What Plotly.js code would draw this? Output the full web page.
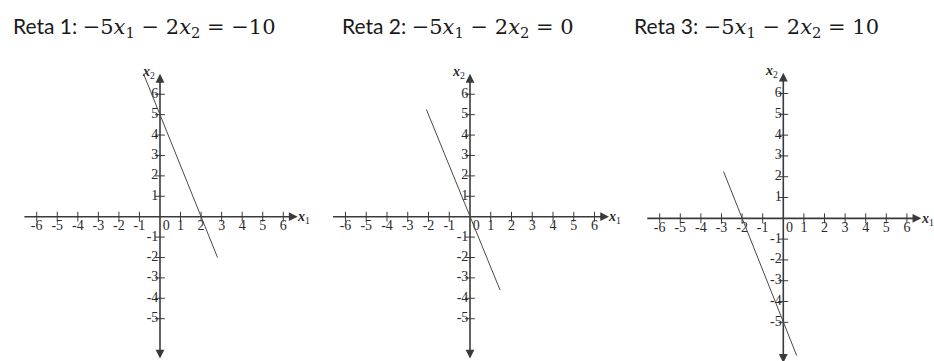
<!DOCTYPE html>
<html>
<head>
<meta charset="utf-8">
<script src="https://cdn.plot.ly/plotly-3.0.1.min.js"></script>
<style>html,body{margin:0;padding:0;background:#fff;}</style>
</head>
<body>
<div id="chart" style="width:934px;height:361px;"></div>
<script>
// Panel headings and the equation of each line
const headings = ['Reta 1:', 'Reta 2:', 'Reta 3:'];
const equations = [
  '−5<i>x</i><sub>1</sub> − 2<i>x</i><sub>2</sub> = −10',
  '−5<i>x</i><sub>1</sub> − 2<i>x</i><sub>2</sub> = 0',
  '−5<i>x</i><sub>1</sub> − 2<i>x</i><sub>2</sub> = 10'
];

// Tick values on the two coordinate axes
const xTicks = [-6, -5, -4, -3, -2, -1, 1, 2, 3, 4, 5, 6];
const yTicks = [-5, -4, -3, -2, -1, 1, 2, 3, 4, 5, 6];

// End points of the drawn segment of each line
const line1X = [-0.8, 2.8];
const line1Y = [7.0, -2.0];
const line2X = [-2.1, 1.45];
const line2Y = [5.25, -3.6];
const line3X = [-2.9, 0.65];
const line3Y = [2.25, -6.6];

const lines = [[line1X, line1Y], [line2X, line2Y], [line3X, line3Y]];

// Geometry of the three coordinate planes
const W = 934, H = 361;
const panels = [
  { xd: [10 / W, 310 / W], yd: [1.5 / H, 295.3 / H], xr: [-7.3, 7.3], yr: [-7.0, 7.4], titleX: 11 },
  { xd: [318.5 / W, 621.5 / W], yd: [1.5 / H, 295.3 / H], xr: [-7.3, 7.3], yr: [-7.0, 7.4], titleX: 340 },
  { xd: [632.9 / W, 933.7 / W], yd: [0.2 / H, 294.5 / H], xr: [-7.3, 7.3], yr: [-6.85, 7.3], titleX: 632 }
];

const axisColor = '#3a3a3a';
const labelFont = { family: 'Liberation Serif', size: 14, color: '#2a2a2a' };

const traces = [];
const layout = {
  width: W, height: H,
  margin: { l: 0, r: 0, t: 0, b: 0 },
  paper_bgcolor: '#ffffff',
  plot_bgcolor: 'rgba(0,0,0,0)',
  showlegend: false,
  hovermode: false,
  annotations: []
};

panels.forEach((p, i) => {
  const n = i === 0 ? '' : String(i + 1);
  const xa = 'x' + n, ya = 'y' + n;
  const hidden = { showgrid: false, zeroline: false, showticklabels: false, ticks: '', showline: false, fixedrange: true };
  layout['xaxis' + n] = Object.assign({ domain: p.xd, range: p.xr, anchor: ya }, hidden);
  layout['yaxis' + n] = Object.assign({ domain: p.yd, range: p.yr, anchor: xa }, hidden);

  // horizontal axis
  traces.push({ type: 'scatter', mode: 'lines', xaxis: xa, yaxis: ya,
    x: [-6.6, 6.45], y: [0, 0], line: { color: axisColor, width: 1.6 }, cliponaxis: false });
  // vertical axis
  traces.push({ type: 'scatter', mode: 'lines', xaxis: xa, yaxis: ya,
    x: [0, 0], y: [-6.8, 6.75], line: { color: axisColor, width: 1.6 }, cliponaxis: false });

  // tick marks
  traces.push({ type: 'scatter', mode: 'markers', xaxis: xa, yaxis: ya,
    x: xTicks, y: xTicks.map(() => 0),
    marker: { symbol: 'line-ns-open', size: 7, color: axisColor, line: { color: axisColor, width: 1 } } });
  traces.push({ type: 'scatter', mode: 'markers', xaxis: xa, yaxis: ya,
    x: yTicks.map(() => 0), y: yTicks,
    marker: { symbol: 'line-ew-open', size: 7, color: axisColor, line: { color: axisColor, width: 1 } } });

  // tick labels
  traces.push({ type: 'scatter', mode: 'text', xaxis: xa, yaxis: ya,
    x: xTicks, y: xTicks.map(() => -0.5), text: xTicks.map(String),
    textposition: 'middle center', textfont: labelFont, cliponaxis: false });
  traces.push({ type: 'scatter', mode: 'text', xaxis: xa, yaxis: ya,
    x: [0.3], y: [-0.5], text: ['0'],
    textposition: 'middle center', textfont: labelFont, cliponaxis: false });
  traces.push({ type: 'scatter', mode: 'text', xaxis: xa, yaxis: ya,
    x: yTicks.map(() => -0.08), y: yTicks, text: yTicks.map(String),
    textposition: 'middle left', textfont: labelFont, cliponaxis: false });

  // the line of this panel
  traces.push({ type: 'scatter', mode: 'lines', xaxis: xa, yaxis: ya,
    x: lines[i][0], y: lines[i][1], line: { color: '#4a4a4a', width: 1 }, cliponaxis: false });

  // arrow heads at the axis ends
  const arrow = { text: '', showarrow: true, arrowhead: 2, arrowsize: 1.1, arrowwidth: 1.6,
    arrowcolor: axisColor, xref: xa, yref: ya, axref: xa, ayref: ya };
  layout.annotations.push(Object.assign({ x: 6.7, y: 0, ax: 6.2, ay: 0 }, arrow));
  layout.annotations.push(Object.assign({ x: 0, y: 7.0, ax: 0, ay: 6.5 }, arrow));
  layout.annotations.push(Object.assign({ x: 0, y: -6.95, ax: 0, ay: -6.6, arrowsize: 0.6 }, arrow));

  // axis names
  layout.annotations.push({ xref: xa, yref: ya, x: 6.98, y: -0.05, showarrow: false,
    text: '<b><i>x</i></b><sub>1</sub>', font: { family: 'Liberation Serif', size: 14, color: '#2a2a2a' } });
  layout.annotations.push({ xref: xa, yref: ya, x: -0.55, y: 7.08, showarrow: false,
    text: '<b><i>x</i></b><sub>2</sub>', font: { family: 'Liberation Serif', size: 14, color: '#2a2a2a' } });

  // heading
  layout.annotations.push({ xref: 'paper', yref: 'paper', x: p.titleX / W, y: (H - 27) / H,
    xanchor: 'left', yanchor: 'middle', showarrow: false,
    text: headings[i] + " <span style=\"font-family:'DejaVu Serif'\">" + equations[i] + '</span>',
    font: { family: 'Lato', size: 21, color: '#1a1a1a' } });
});

Plotly.newPlot('chart', traces, layout, { displayModeBar: false, staticPlot: true });
</script>
</body>
</html>
